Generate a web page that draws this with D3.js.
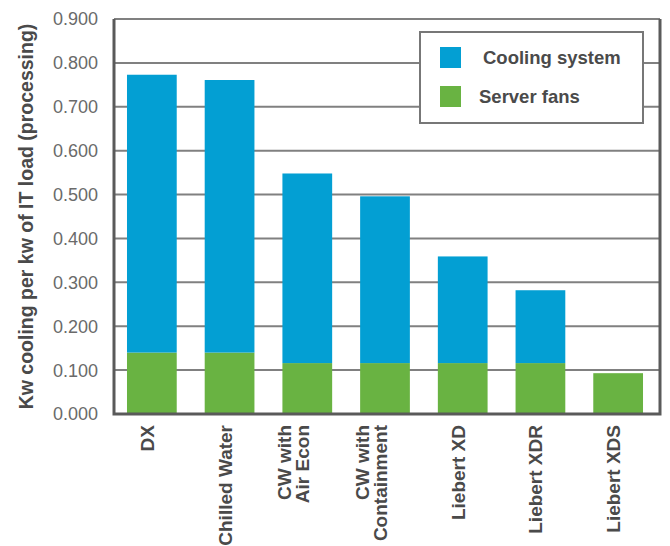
<!DOCTYPE html>
<html>
<head>
<meta charset="utf-8">
<script src="https://cdn.jsdelivr.net/npm/d3@7"></script>
<style>
    body { margin: 0; background: #fff; }
    svg { display: block; }
</style>
</head>
<body>
<div id="chart"></div>
<script>
// Data
const categories = ["DX", "Chilled Water", "CW with\nAir Econ", "CW with\nContainment", "Liebert XD", "Liebert XDR", "Liebert XDS"];
const serverFans = [0.140, 0.140, 0.116, 0.116, 0.116, 0.116, 0.093];
const coolingSystem = [0.633, 0.621, 0.432, 0.380, 0.243, 0.166, 0.000];
const yTicks = [0, 0.1, 0.2, 0.3, 0.4, 0.5, 0.6, 0.7, 0.8, 0.9];
const seriesNames = ["Server fans", "Cooling system"];
const legendOrder = ["Cooling system", "Server fans"];

const config = {
    width: 670,
    height: 546,
    plot: { left: 114, right: 660, top: 19, bottom: 414 },
    bandRange: [113, 657],
    colors: { "Cooling system": "#039fd3", "Server fans": "#69b342" },
    text: "#4a4a4a",
    font: "'Liberation Sans', Arial, sans-serif"
};

const rows = categories.map((c, i) => ({
    category: c,
    "Server fans": serverFans[i],
    "Cooling system": coolingSystem[i]
}));

const svg = d3.select("#chart")
    .append("svg")
    .attr("width", config.width)
    .attr("height", config.height)
    .style("font-family", config.font);

const x = d3.scaleBand()
    .domain(categories)
    .range(config.bandRange)
    .paddingInner(0.36)
    .paddingOuter(0.18);

const y = d3.scaleLinear()
    .domain([0, 0.9])
    .range([config.plot.bottom, config.plot.top]);

// Gridlines
svg.append("g")
    .selectAll("line")
    .data(yTicks.slice(1))
    .enter()
    .append("line")
    .attr("x1", config.plot.left)
    .attr("x2", config.plot.right)
    .attr("y1", d => y(d))
    .attr("y2", d => y(d))
    .attr("stroke", "#808080")
    .attr("stroke-width", 2);

// Stacked bars
const stacked = d3.stack().keys(seriesNames)(rows);

svg.append("g")
    .selectAll("g")
    .data(stacked)
    .enter()
    .append("g")
    .attr("fill", d => config.colors[d.key])
    .selectAll("rect")
    .data(d => d)
    .enter()
    .append("rect")
    .attr("x", d => x(d.data.category))
    .attr("width", x.bandwidth())
    .attr("y", d => y(d[1]))
    .attr("height", d => y(d[0]) - y(d[1]));

// Frame (left, bottom, right)
svg.append("path")
    .attr("stroke", "#5a5a5a")
    .attr("stroke-width", 3)
    .attr("fill", "none")
    .attr("d", `M${config.plot.left},${config.plot.top}V${config.plot.bottom}H${config.plot.right}V${config.plot.top}`);

// Y tick labels
svg.append("g")
    .selectAll("text")
    .data(yTicks)
    .enter()
    .append("text")
    .attr("x", 98)
    .attr("y", d => y(d))
    .attr("dy", "0.36em")
    .attr("text-anchor", "end")
    .attr("fill", "#6a6a6a")
    .style("font-size", "18px")
    .text(d => d3.format(".3f")(d));

// Y axis title
svg.append("text")
    .attr("transform", `translate(33,${(23 + 410) / 2}) rotate(-90)`)
    .attr("text-anchor", "middle")
    .attr("fill", config.text)
    .style("font-size", "19.5px")
    .style("font-weight", "bold")
    .text("Kw cooling per kw of IT load (processing)");

// X labels, rotated
const xLabels = svg.append("g")
    .selectAll("text")
    .data(categories)
    .enter()
    .append("text")
    .attr("text-anchor", "end")
    .attr("fill", config.text)
    .style("font-size", "19px")
    .style("font-weight", "bold")
    .attr("transform", d => `translate(${x(d) + x.bandwidth() / 2 + 2},425) rotate(-90)`);

xLabels.each(function(d) {
    const lines = d.split("\n");
    const t = d3.select(this);
    lines.forEach((line, i) => {
        t.append("tspan")
            .attr("x", 0)
            .attr("y", (i - (lines.length - 1)) * 18)
            .text(line);
    });
});

// Legend
const legend = svg.append("g");
legend.append("rect")
    .attr("x", 420)
    .attr("y", 32)
    .attr("width", 223)
    .attr("height", 91)
    .attr("fill", "#fff")
    .attr("stroke", "#777")
    .attr("stroke-width", 2);

const legendItems = legend.selectAll("g")
    .data(legendOrder)
    .enter()
    .append("g")
    .attr("transform", (d, i) => `translate(440,${47 + i * 39})`);

legendItems.append("rect")
    .attr("width", 21)
    .attr("height", 21)
    .attr("fill", d => config.colors[d]);

legendItems.append("text")
    .attr("x", (d, i) => i === 0 ? 43 : 39)
    .attr("y", 17)
    .attr("fill", config.text)
    .style("font-size", "18.5px")
    .style("font-weight", "bold")
    .text(d => d);
</script>
</body>
</html>
